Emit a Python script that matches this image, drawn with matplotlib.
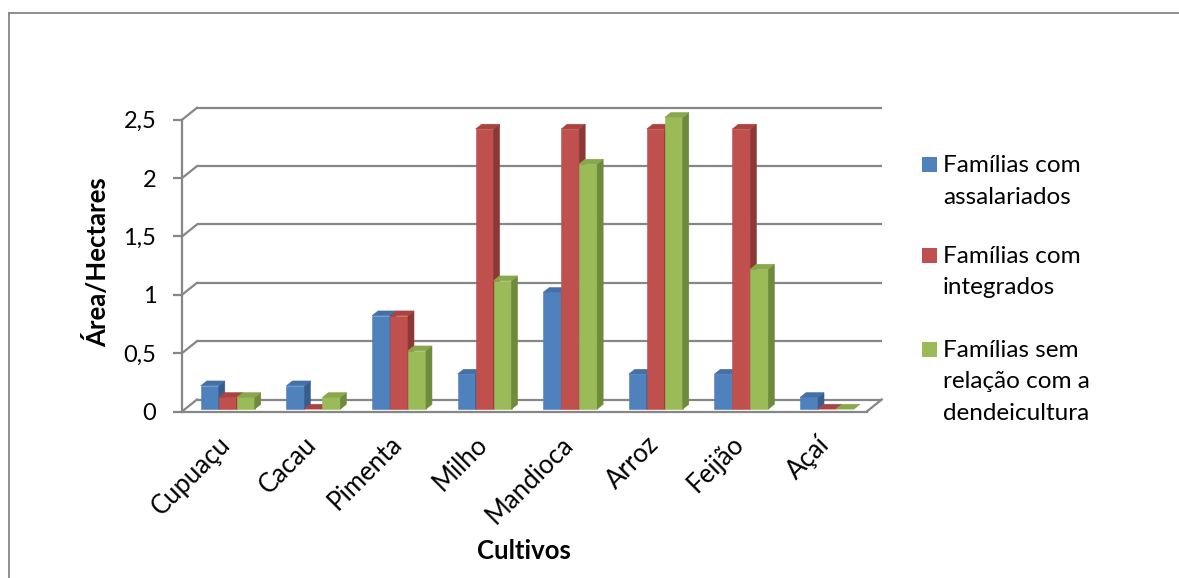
import numpy as np
import matplotlib
matplotlib.use("Agg")
import matplotlib.pyplot as plt
from matplotlib.patches import Polygon, Rectangle
import matplotlib.transforms as mtrans

cultivos = ["Cupuaçu", "Cacau", "Pimenta", "Milho", "Mandioca", "Arroz", "Feijão", "Açaí"]
assalariados = [0.2, 0.2, 0.8, 0.3, 1.0, 0.3, 0.3, 0.1]
integrados = [0.1, 0.0, 0.8, 2.4, 2.4, 2.4, 2.4, 0.0]
sem_relacao = [0.1, 0.1, 0.5, 1.1, 2.1, 2.5, 1.2, 0.0]
serie_nomes = ["Famílias com\nassalariados",
               "Famílias com\nintegrados",
               "Famílias sem\nrelação com a\ndendeicultura"]
yticks = [0, 0.5, 1, 1.5, 2, 2.5]
ytick_labels = ["0", "0,5", "1", "1,5", "2", "2,5"]

# cores Excel 2007: (frente, topo, lateral)
cores = [("#4F81BD", "#4470A9", "#385D8A"),
         ("#C0504D", "#A94441", "#8C3836"),
         ("#9BBB59", "#89A74B", "#6E8A3C")]
GRID = "#868686"
FONT = ["Lato", "DejaVu Sans"]
plt.rcParams["font.family"] = FONT

W, H = 1179, 578
fig = plt.figure(figsize=(W / 100, H / 100), dpi=100)

# geometria pseudo-3D (px -> dados)
sx, sy = 85.6, 116.7          # px por categoria / por hectare
x0px, y0px = 182, 411.5       # canto frontal esquerdo do chao
DX, DY = 15 / sx, 12 / sy     # profundidade da parede do fundo
xmin, xmax = -0.5, 7.5 + DX
ymin, ymax = 0, 2.5 + DY
ax = fig.add_axes([x0px / W, (H - y0px) / H,
                   (xmax - xmin) * sx / W, (ymax - ymin) * sy / H])
ax.set_xlim(xmin, xmax); ax.set_ylim(ymin, ymax)
ax.patch.set_visible(False)

# parede do fundo + parede lateral
for y in yticks:
    ax.plot([-0.5 + DX, 7.5 + DX], [y + DY, y + DY], color=GRID, lw=1.6,
            zorder=0.5, clip_on=False, solid_capstyle="butt")
    ax.plot([-0.5, -0.5 + DX], [y, y + DY], color=GRID, lw=1.6,
            zorder=0.5, clip_on=False)
# aresta direita do chao
ax.plot([7.5, 7.5 + DX], [0, DY], color=GRID, lw=1.6, zorder=3, clip_on=False)

# barras
bw = 0.21
z0, zd = 0.2, 0.4
series = [assalariados, integrados, sem_relacao]
for i in range(len(cultivos)):
    for k, vals in enumerate(series):
        v = vals[i]
        fc, tc, sc = cores[k]
        xa = i - 1.5 * bw + k * bw + z0 * DX
        ya = z0 * DY
        ox, oy = zd * DX, zd * DY
        if v > 0:
            ax.add_patch(Rectangle((xa, ya), bw, v, fc=fc, ec=fc, lw=0.4, zorder=1))
            ax.add_patch(Polygon([(xa + bw, ya), (xa + bw + ox, ya + oy),
                                  (xa + bw + ox, ya + v + oy), (xa + bw, ya + v)],
                                 closed=True, fc=sc, ec=sc, lw=0.4, zorder=1))
        ax.add_patch(Polygon([(xa, ya + v), (xa + ox, ya + v + oy),
                              (xa + bw + ox, ya + v + oy), (xa + bw, ya + v)],
                             closed=True, fc=tc, ec=tc, lw=0.4, zorder=1))

# eixos
for s in ["top", "right"]:
    ax.spines[s].set_visible(False)
ax.spines["left"].set_bounds(0, 2.5)
ax.spines["bottom"].set_bounds(-0.5, 7.5)
for s in ["left", "bottom"]:
    ax.spines[s].set_color(GRID); ax.spines[s].set_linewidth(1.6)
    ax.spines[s].set_zorder(3)
ax.set_yticks(yticks)
ax.set_yticklabels(ytick_labels)
ax.tick_params(axis="y", length=6.5, width=1.6, color=GRID, pad=12,
               labelsize=17, labelcolor="black")
ax.set_xticks([])

off = mtrans.offset_copy(ax.transData, fig=fig, x=-7, y=-20, units="dots")
for i, c in enumerate(cultivos):
    ax.text(i, 0, c, transform=off, rotation=45, ha="right", va="top",
            rotation_mode="anchor", fontsize=18.5)

fig.text(97 / W, 1 - 262 / H, "Área/Hectares", rotation=90, ha="center",
         va="center", fontsize=18.5, fontweight="bold")
fig.text(524 / W, 1 - 551 / H, "Cultivos", ha="center", va="center",
         fontsize=18.5, fontweight="bold")

# legenda
base = [172, 263, 357]
for k, nome in enumerate(serie_nomes):
    fig.patches.append(Rectangle((922 / W, 1 - base[k] / H), 15 / W, 15 / H,
                                 transform=fig.transFigure, fc=cores[k][0],
                                 ec="none"))
    for j, linha in enumerate(nome.split("\n")):
        fig.text(943 / W, 1 - (base[k] + 31.5 * j) / H, linha, ha="left",
                 va="baseline", fontsize=17.5)

# borda da area do grafico
fig.add_artist(plt.Line2D([9 / W, 9 / W], [0, 1 - 13 / H], color=GRID, lw=1.3,
                          transform=fig.transFigure))
fig.add_artist(plt.Line2D([9 / W, 1], [1 - 13 / H, 1 - 13 / H], color=GRID,
                          lw=1.3, transform=fig.transFigure))

fig.savefig("out.png", dpi=100)
